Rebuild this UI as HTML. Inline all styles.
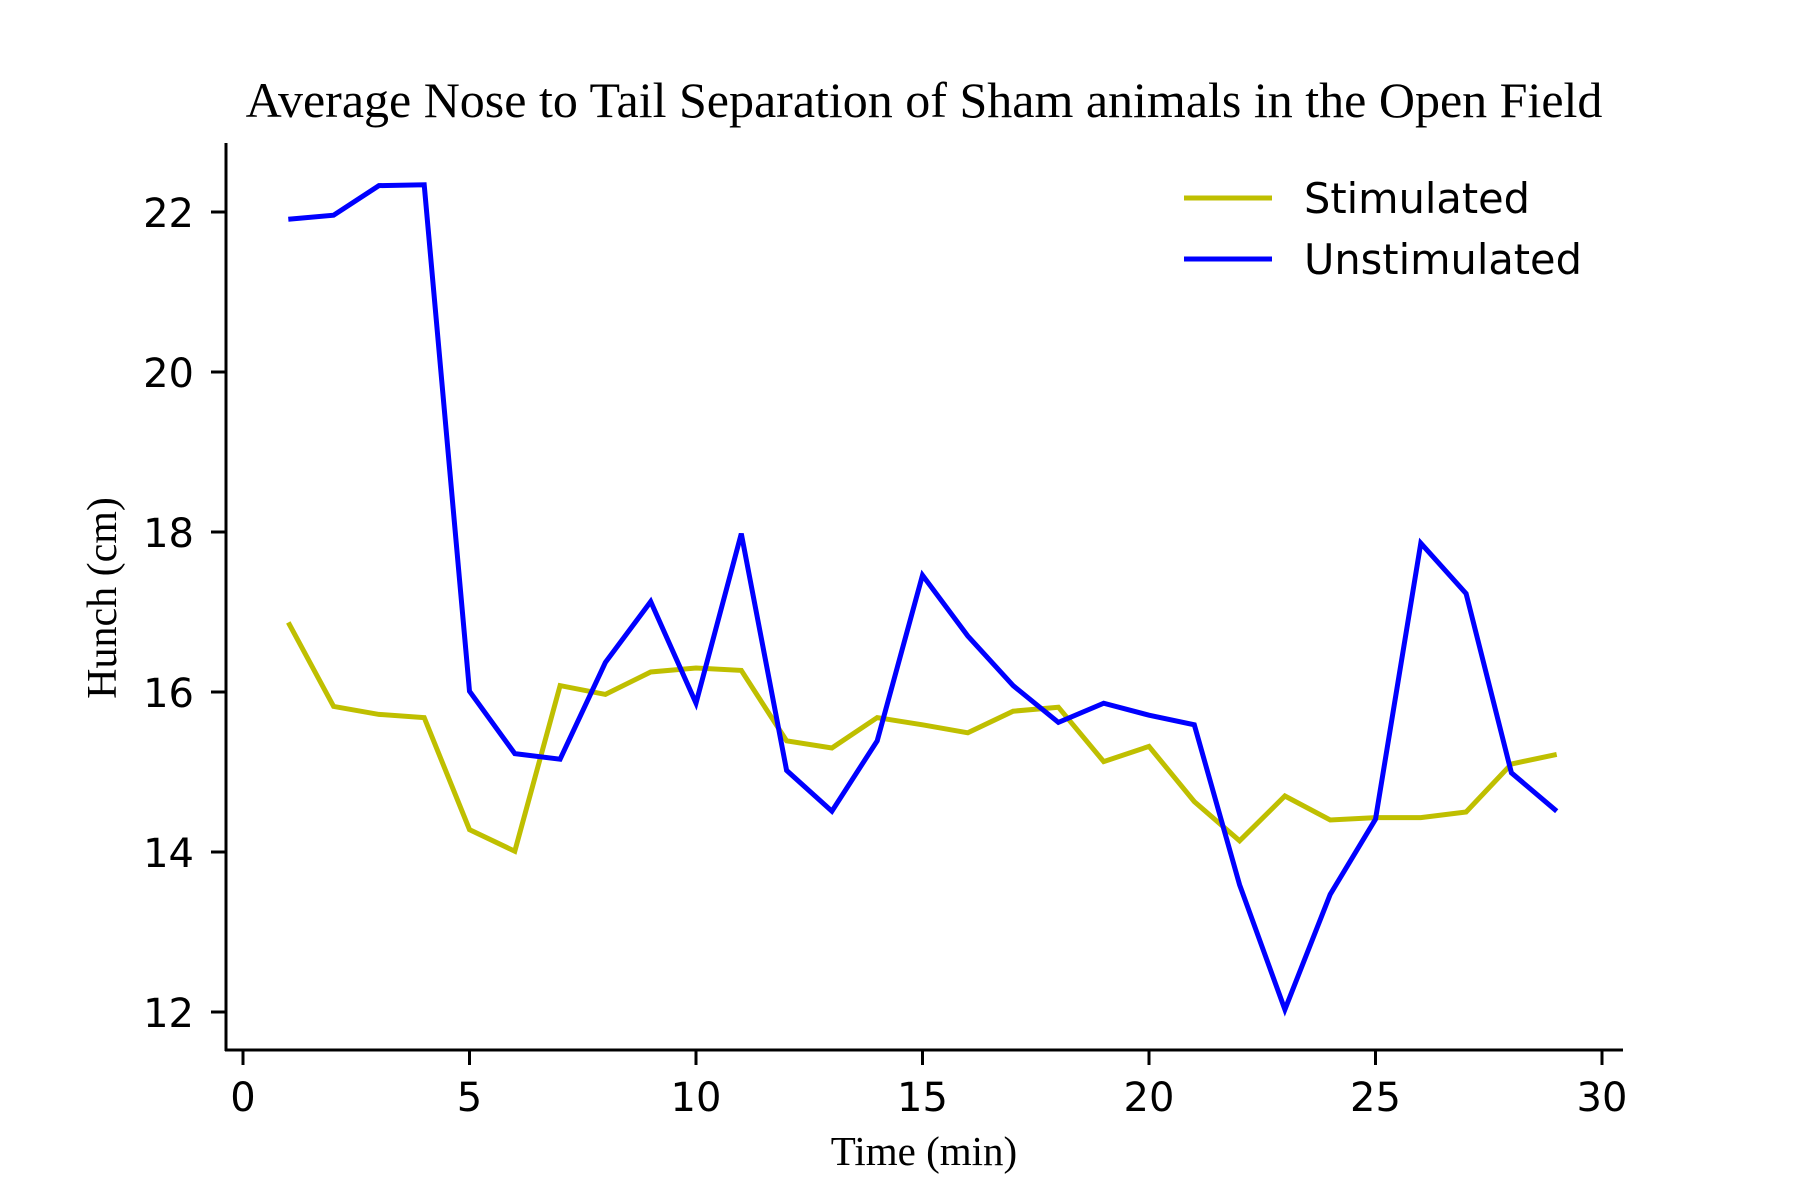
<!DOCTYPE html>
<html><head><meta charset="utf-8"><style>
html,body{margin:0;padding:0;background:#fff;}
svg{display:block;}
.tick{font-family:"DejaVu Sans","Liberation Sans",sans-serif;font-size:40px;fill:#000;}
.leg{font-family:"DejaVu Sans","Liberation Sans",sans-serif;font-size:41.5px;fill:#000;}
.serif{font-family:"Liberation Serif",serif;fill:#000;}
</style></head><body>
<svg id="chart" width="1800" height="1200" viewBox="0 0 1800 1200" xmlns="http://www.w3.org/2000/svg">
<text class="serif" x="924" y="117" font-size="50" text-anchor="middle">Average Nose to Tail Separation of Sham animals in the Open Field</text>
<g id="axes"></g>
<g id="series"></g>
<text class="serif" x="924" y="1165" font-size="41" text-anchor="middle">Time (min)</text>
<text class="serif" x="0" y="0" font-size="42" text-anchor="middle" transform="translate(116,598) rotate(-90)">Hunch (cm)</text>
<g>
<g>
<line x1="1184" y1="198" x2="1272" y2="198" stroke="#bfbf00" stroke-width="5"/>
<text class="leg" x="1304" y="213">Stimulated</text>
</g>
<g>
<line x1="1184" y1="259" x2="1272" y2="259" stroke="#0000ff" stroke-width="5"/>
<text class="leg" x="1304" y="274">Unstimulated</text>
</g>
</g>
</svg>
<script>
const times = [1,2,3,4,5,6,7,8,9,10,11,12,13,14,15,16,17,18,19,20,21,22,23,24,25,26,27,28,29];
const stimulated = [16.87,15.82,15.72,15.68,14.28,14.01,16.08,15.97,16.25,16.30,16.27,15.39,15.30,15.68,15.59,15.49,15.76,15.81,15.13,15.32,14.63,14.14,14.70,14.40,14.43,14.43,14.50,15.10,15.22];
const unstimulated = [21.91,21.96,22.33,22.34,16.01,15.23,15.16,16.37,17.13,15.86,17.98,15.02,14.51,15.39,17.46,16.70,16.08,15.62,15.86,15.71,15.59,13.59,12.03,13.47,14.41,17.86,17.23,14.99,14.51];
const xTicks = [0,5,10,15,20,25,30];
const yTicks = [12,14,16,18,20,22];

const NS='http://www.w3.org/2000/svg';
function xs(v){return 243 + v*(1602-243)/30;}
function ys(v){return 1012 - (v-12)*80;}
function mk(tag,attrs,parent){const e=document.createElementNS(NS,tag);for(const k in attrs)e.setAttribute(k,attrs[k]);parent.appendChild(e);return e;}
const axes=document.getElementById('axes');
const series=document.getElementById('series');
let sp=mk('line',{x1:226,y1:143,x2:226,y2:1051,stroke:'#000','stroke-width':3},axes);


sp=mk('line',{x1:225,y1:1050,x2:1623,y2:1050,stroke:'#000','stroke-width':3},axes);


xTicks.forEach(t=>{
  const x=xs(t);
  const l=mk('line',{x1:x,y1:1050,x2:x,y2:1065,stroke:'#000','stroke-width':3},axes);
  
  
  const tx=mk('text',{x:x,y:1111,'text-anchor':'middle','class':'tick'},axes);
  tx.textContent=t;
  
  
});
yTicks.forEach(t=>{
  const y=ys(t);
  const l=mk('line',{x1:211,y1:y,x2:226,y2:y,stroke:'#000','stroke-width':3},axes);
  
  
  const tx=mk('text',{x:194,y:y+15,'text-anchor':'end','class':'tick'},axes);
  tx.textContent=t;
  
  
});
function drawLine(vals,color,name){
  const pts=vals.map((v,i)=>xs(times[i]).toFixed(1)+','+ys(v).toFixed(1)).join(' ');
  const p=mk('polyline',{points:pts,fill:'none',stroke:color,'stroke-width':5,'stroke-linejoin':'miter'},series);
  
  
}
drawLine(stimulated,'#bfbf00','stimulated-line');
drawLine(unstimulated,'#0000ff','unstimulated-line');
</script>
</body></html>
